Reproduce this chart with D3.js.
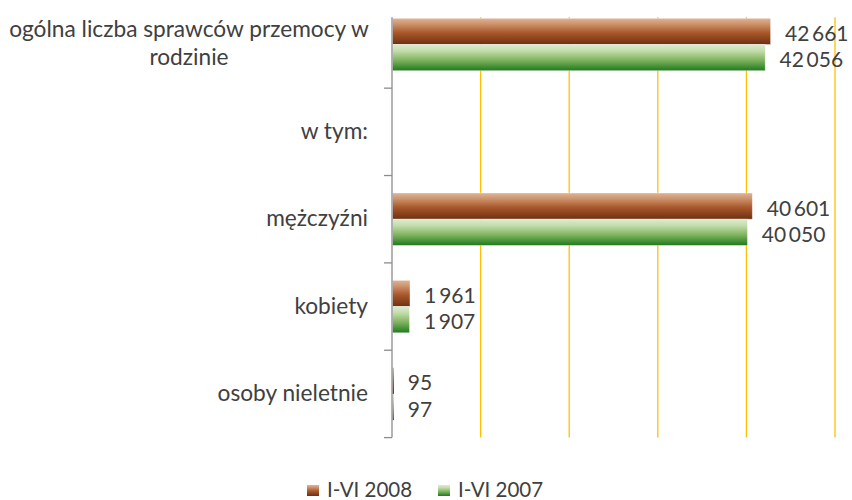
<!DOCTYPE html>
<html>
<head>
<meta charset="utf-8">
<script src="https://cdn.jsdelivr.net/npm/d3@7"></script>
<style>
  body { margin: 0; background: #fff; }
  text { font-family: Lato, "Open Sans", sans-serif; fill: #404040; }
</style>
</head>
<body>
<div id="wrapper"></div>
<script>
// data
const categories = [
  "ogólna liczba sprawców przemocy w rodzinie",
  "w tym:",
  "mężczyźni",
  "kobiety",
  "osoby nieletnie",
]
const categoryLines = [
  ["ogólna liczba sprawców przemocy w", "rodzinie"],
  ["w tym:"],
  ["mężczyźni"],
  ["kobiety"],
  ["osoby nieletnie"],
]
const seriesNames = ["I-VI 2008", "I-VI 2007"]
const values2008 = [42661, null, 40601, 1961, 95]
const values2007 = [42056, null, 40050, 1907, 97]
const xTicks = [0, 10000, 20000, 30000, 40000, 50000]

function drawBars() {

  const dataset = categories.map((c, i) => ({
    category: c,
    lines: categoryLines[i],
    values: [
      { series: seriesNames[0], value: values2008[i] },
      { series: seriesNames[1], value: values2007[i] },
    ],
  }))

  // dimensions
  let dimensions = {
    width: 852,
    height: 500,
    margin: { top: 0.8, right: 17, bottom: 62.4, left: 392 },
  }
  dimensions.boundedWidth = dimensions.width
    - dimensions.margin.left
    - dimensions.margin.right
  dimensions.boundedHeight = dimensions.height
    - dimensions.margin.top
    - dimensions.margin.bottom
  const plotTop = 16.5

  const wrapper = d3.select("#wrapper")
    .append("svg")
      .attr("width", dimensions.width)
      .attr("height", dimensions.height)

  const defs = wrapper.append("defs")
  const gradients = [
    { id: "grad-brown", stops: [["0%", "#dcb498"], ["20%", "#cf9670"], ["55%", "#a9582a"], ["100%", "#6e3011"]] },
    { id: "grad-green", stops: [["0%", "#dcecd0"], ["25%", "#c2dca9"], ["60%", "#7fb35f"], ["100%", "#1f7a1c"]] },
  ]
  gradients.forEach(g => {
    const lg = defs.append("linearGradient")
        .attr("id", g.id)
        .attr("x1", 0).attr("y1", 0).attr("x2", 0).attr("y2", 1)
    g.stops.forEach(s => lg.append("stop")
        .attr("offset", s[0])
        .attr("stop-color", s[1]))
  })
  const seriesFill = d3.scaleOrdinal()
    .domain(seriesNames)
    .range(["url(#grad-brown)", "url(#grad-green)"])

  const bounds = wrapper.append("g")
      .attr("transform", `translate(${dimensions.margin.left}, ${dimensions.margin.top})`)

  // scales
  const xScale = d3.scaleLinear()
    .domain([0, 50000])
    .range([0, dimensions.boundedWidth])

  const yScale = d3.scaleBand()
    .domain(categories)
    .range([0, dimensions.boundedHeight])
    .paddingInner(0.4)
    .paddingOuter(0.2)

  const ySubScale = d3.scaleBand()
    .domain(seriesNames)
    .range([0, yScale.bandwidth()])

  // gridlines
  bounds.append("g")
    .selectAll("line")
    .data(xTicks.slice(1))
    .join("line")
      .attr("x1", d => xScale(d))
      .attr("x2", d => xScale(d))
      .attr("y1", plotTop)
      .attr("y2", dimensions.boundedHeight)
      .attr("stroke", "#ffc000")
      .attr("stroke-width", 1.3)

  // bars
  const groups = bounds.append("g")
    .selectAll("g")
    .data(dataset)
    .join("g")
      .attr("transform", d => `translate(0, ${yScale(d.category)})`)

  groups.selectAll("rect")
    .data(d => d.values.filter(v => v.value != null))
    .join("rect")
      .attr("x", 0.6)
      .attr("y", d => ySubScale(d.series))
      .attr("width", d => Math.max(1.4, xScale(d.value)))
      .attr("height", ySubScale.bandwidth())
      .attr("fill", d => seriesFill(d.series))
      .attr("stroke", d => xScale(d.value) > 5 ? "rgba(255,255,255,0.45)" : "none")
      .attr("stroke-width", 0.8)

  // thin space as the thousands separator
  const fmt = d3.formatLocale({ decimal: ",", thousands: "\u2009", grouping: [3], currency: ["", ""] }).format(",d")

  groups.selectAll("text")
    .data(d => d.values.filter(v => v.value != null))
    .join("text")
      .attr("x", d => xScale(d.value) + 15)
      .attr("y", d => ySubScale(d.series) + ySubScale.bandwidth() / 2 + 1)
      .attr("dominant-baseline", "central")
      .style("font-size", "21px")
      .text(d => fmt(d.value))

  // category axis
  const boundaries = d3.range(categories.length + 1)
    .map(i => i * yScale.step())
  const axis = bounds.append("g")
  axis.append("line")
      .attr("x1", 0).attr("x2", 0)
      .attr("y1", plotTop)
      .attr("y2", dimensions.boundedHeight)
      .attr("stroke", "#8c8c8c")
      .attr("stroke-width", 1.3)
  axis.selectAll(".tick")
    .data(boundaries.filter(b => b > plotTop))
    .join("line")
      .attr("class", "tick")
      .attr("x1", -8).attr("x2", 0)
      .attr("y1", d => d).attr("y2", d => d)
      .attr("stroke", "#8c8c8c")
      .attr("stroke-width", 1.3)

  const labels = axis.selectAll(".label")
    .data(dataset)
    .join("text")
      .attr("class", "label")
      .attr("y", d => yScale(d.category) + yScale.bandwidth() / 2)
      .style("font-size", "22.7px")
  labels.each(function(d) {
    const el = d3.select(this)
    const multi = d.lines.length > 1
    const lineHeight = 28
    const x = multi ? -203 : -24
    el.attr("text-anchor", multi ? "middle" : "end")
    d.lines.forEach((line, i) => {
      el.append("tspan")
        .attr("x", x)
        .attr("dy", i == 0 ? ((-(d.lines.length - 1) / 2) * lineHeight) + 7 : lineHeight)
        .text(line)
    })
  })

  // legend
  const legend = wrapper.append("g")
      .attr("transform", "translate(307, 488)")
  const legendItems = legend.selectAll("g")
    .data(seriesNames)
    .join("g")
      .attr("transform", (d, i) => `translate(${i * 131}, 0)`)
  legendItems.append("rect")
      .attr("x", 0)
      .attr("y", -3)
      .attr("width", 12)
      .attr("height", 11)
      .attr("fill", d => seriesFill(d))
  legendItems.append("text")
      .attr("x", 20)
      .attr("y", 1)
      .attr("dominant-baseline", "central")
      .style("font-size", "20.5px")
      .text(d => d)
}
drawBars()
</script>
</body>
</html>
